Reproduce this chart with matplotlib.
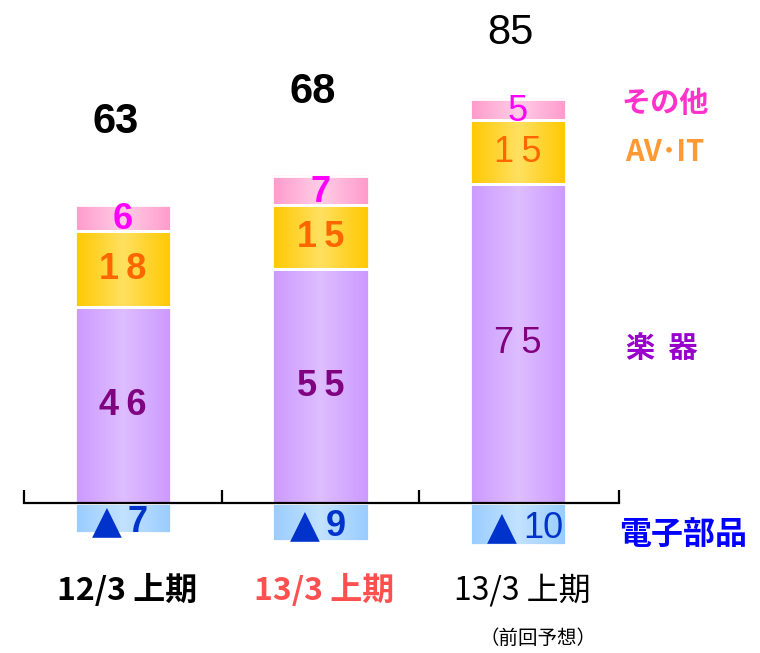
import numpy as np
import matplotlib.pyplot as plt
from matplotlib.colors import LinearSegmentedColormap

plt.rcParams['font.family'] = ['Noto Sans CJK JP', 'DejaVu Sans']

periods = ['12/3 上期', '13/3 上期', '13/3 上期']
period_colors = ['black', '#FF5050', 'black']
period_weights = ['bold', 'bold', 'normal']
period_notes = ['', '', '（前回予想）']
totals = [63, 68, 85]
instruments = [46, 55, 75]
av_it = [18, 15, 15]
others = [6, 7, 5]
electronic = [-7, -9, -10]

x = np.arange(len(periods))
w = 0.49
num_font = ['Liberation Sans', 'DejaVu Sans']

fig = plt.figure(figsize=(7.6, 6.53), dpi=100)
ax = fig.add_axes([0, 0, 1, 1])


def shade(bars, c_edge, c_mid):
    cmap = LinearSegmentedColormap.from_list('g', [c_edge, c_mid, c_edge])
    grad = np.linspace(0, 1, 256).reshape(1, -1)
    for b in bars:
        x0, y0 = b.get_x(), b.get_y()
        bw, bh = b.get_width(), b.get_height()
        ax.imshow(grad, cmap=cmap, extent=[x0, x0 + bw, y0, y0 + bh],
                  aspect='auto', zorder=2, interpolation='bilinear')


b1 = ax.bar(x, instruments, w, color='none', edgecolor='white', lw=2, zorder=3)
b2 = ax.bar(x, av_it, w, bottom=instruments, color='none', edgecolor='white', lw=2, zorder=3)
bot3 = np.array(instruments) + np.array(av_it)
b3 = ax.bar(x, others, w, bottom=bot3, color='none', edgecolor='white', lw=2, zorder=3)
b4 = ax.bar(x, electronic, w, color='none', edgecolor='white', lw=2, zorder=3)

shade(b1, '#CC99FF', '#DEBDFF')
shade(b2, '#FFC800', '#FFE060')
shade(b3, '#FF9ACB', '#FFCDE6')
shade(b4, '#99CCFF', '#C2E2FF')

# axis line with upward ticks
ax.plot([-0.5, 2.51], [0, 0], color='black', lw=1.6, zorder=5)
ax.vlines([-0.5, 0.5, 1.5, 2.51], 0, 3, color='black', lw=1.6, zorder=5)

for i in range(len(x)):
    wt = period_weights[i]
    num_kw = dict(ha='center', va='center', fontsize=26, fontweight=wt,
                  family=num_font, zorder=6)
    ax.text(x[i], instruments[i] / 2, '\u2009'.join(str(instruments[i])),
            color='#800080', **num_kw)
    ax.text(x[i], instruments[i] + av_it[i] / 2, '\u2009'.join(str(av_it[i])),
            color='#FF6600', **num_kw)
    ax.text(x[i], bot3[i] + others[i] / 2 - 0.4, str(others[i]),
            color='#FF00FF', **num_kw)
    # electronic parts (negative) : big triangle + number
    base = electronic[i] / 2 - 3.3
    ax.text(x[i] - 0.005, base, '▲', color='#0033CC',
            ha='right', va='baseline', fontsize=28, family=['DejaVu Sans'],
            zorder=6)
    ax.text(x[i] + 0.025, base, str(-electronic[i]),
            color='#0033CC', ha='left', va='baseline', fontsize=26,
            fontweight=wt, family=num_font, zorder=6)
    top = bot3[i] + others[i]
    ax.text(x[i] - 0.04, min(top + 17, 108), str(totals[i]), ha='center',
            va='baseline', fontsize=30, color='black', fontweight=wt,
            family=num_font)
    ax.text(x[i] + 0.02, -20.5, periods[i], ha='center', va='center',
            fontsize=23, color=period_colors[i], fontweight=wt)
    if period_notes[i]:
        ax.text(x[i] + 0.1, -31.8, period_notes[i], ha='center', va='center',
                fontsize=14, color='black')

# series names on the right
ax.text(2.744, 94.1, 'その他', color='#FF33CC', fontsize=21, fontweight='bold',
        ha='center', va='center')
ax.text(2.744, 82.6, 'AV･IT', color='#FF9933', fontsize=21, fontweight='bold',
        ha='center', va='center')
ax.text(2.73, 36.5, '楽  器', color='#9900CC', fontsize=21, fontweight='bold',
        ha='center', va='center')
ax.text(2.835, -7.5, '電子部品', color='#0000FF', fontsize=23, fontweight='bold',
        ha='center', va='center')

ax.set_xlim(-0.623, 3.225)
ax.set_ylim(-35.3, 118.35)
ax.axis('off')

fig.savefig('out.png', dpi=100)
